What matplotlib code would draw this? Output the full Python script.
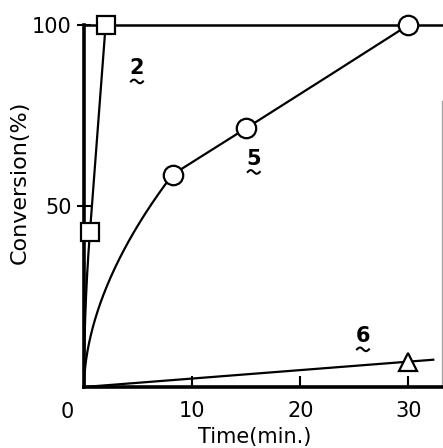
import numpy as np
import matplotlib.pyplot as plt
from matplotlib.transforms import Affine2D, ScaledTranslation

# conversion vs time for compounds 2, 5 and 6
t2 = [0.0, 0.55, 2.0]
c2 = [0.0, 42.8, 100.0]
t5 = [0.0, 8.2, 15.0, 30.0]
c5 = [0.0, 58.7, 71.5, 100.0]
t6 = [0.0, 30.0]
c6 = [0.0, 7.0]

x_ticks = [10, 20, 30]
y_ticks = [50, 100]
tmax = 33.2


def pchip(x, y, xn):
    # monotone cubic hermite through the points
    x = np.asarray(x, float)
    y = np.asarray(y, float)
    h = np.diff(x)
    d = np.diff(y) / h
    if len(x) == 2:
        return y[0] + d[0] * (xn - x[0])
    m = np.zeros_like(y)
    for k in range(1, len(x) - 1):
        if d[k - 1] * d[k] > 0:
            w1 = 2 * h[k] + h[k - 1]
            w2 = h[k] + 2 * h[k - 1]
            m[k] = (w1 + w2) / (w1 / d[k - 1] + w2 / d[k])
    m[0] = ((2 * h[0] + h[1]) * d[0] - h[0] * d[1]) / (h[0] + h[1])
    m[-1] = ((2 * h[-1] + h[-2]) * d[-1] - h[-1] * d[-2]) / (h[-1] + h[-2])
    k = np.clip(np.searchsorted(x, xn, side='right') - 1, 0, len(x) - 2)
    s = (xn - x[k]) / h[k]
    return ((2 * s**3 - 3 * s**2 + 1) * y[k] + (s**3 - 2 * s**2 + s) * h[k] * m[k]
            + (-2 * s**3 + 3 * s**2) * y[k + 1] + (s**3 - s**2) * h[k] * m[k + 1])


def curve(t, c, p):
    # steep power-law rise to the first point, smooth through the rest
    t1, c1 = t[1], c[1]
    ta = np.linspace(0, t1, 200)
    ca = c1 * (ta / t1) ** p
    tb = np.linspace(t1, t[-1], 200)
    cb = pchip(t[1:], c[1:], tb)
    return np.concatenate([ta, tb]), np.concatenate([ca, cb])


fig = plt.figure(figsize=(4.43, 4.48), dpi=100)
ax = fig.add_axes([84 / 443, 61 / 448, 1 - 84 / 443, 362 / 448])

xs, ys = curve(t2, c2, 0.5)
ax.plot(xs, ys, color='black', lw=1.6, zorder=2)
xs, ys = curve(t5, c5, 0.55)
ax.plot(xs, ys, color='black', lw=1.6, zorder=2)
slope6 = c6[-1] / t6[-1]
ax.plot([0, 32.3], [0, 32.3 * slope6], color='black', lw=1.6, zorder=2)

ms = dict(color='black', markerfacecolor='white', markeredgewidth=1.6,
          linestyle='none', clip_on=False, zorder=4)
ax.plot(t2[1:], c2[1:], marker='s', markersize=13, **ms)
ax.plot(t5[1:], c5[1:], marker='o', markersize=14, **ms)
ax.plot(t6[1:], c6[1:], marker='^', markersize=13, **ms)

# faint edge line on the right
ax.plot([tmax - 0.05, tmax - 0.05], [0, 79], color='0.65', lw=1, zorder=1)

ax.set_xlim(0, tmax)
ax.set_ylim(0, 100)
for side in ['left', 'bottom']:
    ax.spines[side].set_linewidth(2.6)
ax.spines['top'].set_linewidth(1.8)
ax.spines['right'].set_visible(False)

ax.set_xticks(x_ticks)
ax.set_yticks(y_ticks)
ax.tick_params(axis='x', direction='in', length=8, width=1.5, labelsize=15, pad=10)
ax.tick_params(axis='y', direction='inout', length=10, width=1.5, labelsize=15, pad=4)
ax.annotate('0', xy=(0, 0), xycoords='data', xytext=(-17, -25),
            textcoords='offset pixels', ha='center', va='center', fontsize=15,
            annotation_clip=False)

fig.text(255 / 443, 1 - 437 / 448, 'Time(min.)', ha='center', va='center', fontsize=15)
fig.text(20 / 443, 1 - 182 / 448, 'Conversion(%)', ha='center', va='center',
         fontsize=16, rotation=90)

# compound numbers, bold with a wavy underline drawn in pixel units
labels = ['2', '5', '6']
label_t = [4.9, 15.7, 25.8]
label_c = [88.0, 63.0, 14.0]
wx = np.linspace(-6, 6, 40)
wy = -1.8 * np.sin(np.pi * wx / 6)
for s, lt, lc in zip(labels, label_t, label_c):
    ax.text(lt, lc, s, ha='center', va='center', fontsize=15, fontweight='bold')
    tr = Affine2D().translate(0, -13) + ScaledTranslation(lt, lc, ax.transData)
    ax.plot(wx, wy, color='black', lw=1.5, transform=tr, clip_on=False)

fig.savefig('out.png', dpi=100)
